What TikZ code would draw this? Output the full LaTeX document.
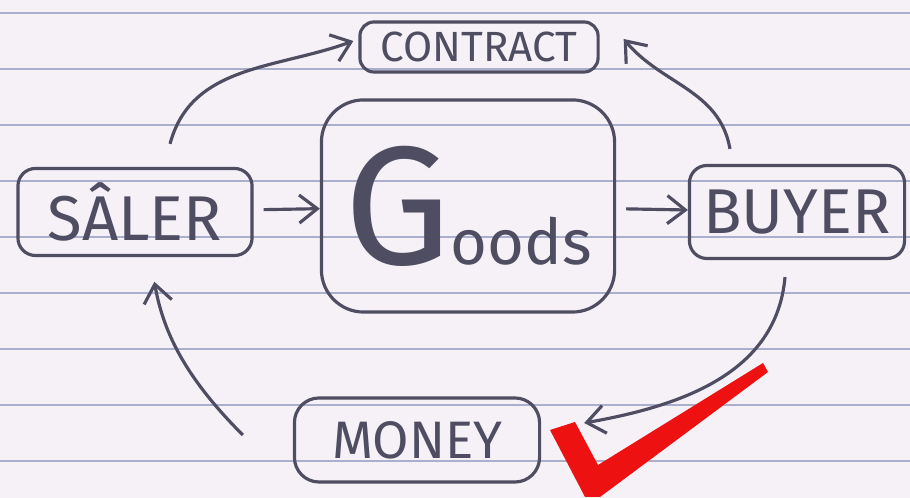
\documentclass[tikz,border=0pt]{standalone}
\usepackage{fontspec}
\setmainfont{Fira Sans}
\usetikzlibrary{arrows.meta}
\definecolor{paper}{HTML}{F6F1F7}
\definecolor{ruleblue}{HTML}{A9AFCC}
\definecolor{pencil}{HTML}{4E4D62}
\definecolor{checkred}{HTML}{EE1111}

\begin{document}
\begin{tikzpicture}[x=0.01cm, y=0.01cm,
	box/.style={draw=pencil, line width=0.9pt, text=pencil, inner sep=0pt},
	flow/.style={draw=pencil, line width=0.9pt, -{Straight Barb[length=1.8mm, width=2.8mm]}},
	ruling/.style={draw=ruleblue, line width=0.7pt}]
	% Paper and ruled lines:
	\fill[paper] (0,0) rectangle (910,498);
	\useasboundingbox (0,0) rectangle (910,498);
	\foreach \y in {37,93,...,485}
		\draw[ruling] (0,\y) -- (910,\y);
	% Nodes:
	\node[box, rounded corners=4pt, minimum width=2.38cm, minimum height=0.5cm, font=\fontsize{12}{14}\selectfont] (contract) at (479,451) {CONTRACT};
	\node[box, rounded corners=5pt, minimum width=2.34cm, minimum height=0.87cm, font=\fontsize{18}{20}\selectfont] (saler) at (135,286) {SÂLER};
	\node[box, rounded corners=12pt, minimum width=2.93cm, minimum height=2.12cm] (goods) at (468,292) {{\fontsize{48}{48}\selectfont G}{\fontsize{18}{18}\selectfont oods}};
	\node[box, rounded corners=5pt, minimum width=2.15cm, minimum height=0.93cm, font=\fontsize{18}{20}\selectfont] (buyer) at (797,286) {BUYER};
	\node[box, rounded corners=7pt, minimum width=2.45cm, minimum height=0.84cm, font=\fontsize{15}{17}\selectfont] (money) at (417,58) {MONEY};
	% Connectors:
	\draw[flow] ([xshift=0.35cm, yshift=0.23cm]saler.north) to[out=75, in=200] ([xshift=-0.05cm, yshift=0.06cm]contract.west);
	\draw[flow] ([xshift=-0.67cm, yshift=0.15cm]buyer.north) to[out=100, in=-50] ([xshift=0.24cm, yshift=0.08cm]contract.east);
	\draw[flow, shorten <=0.1cm] (saler) -- (goods);
	\draw[flow, shorten <=0.1cm] (goods) -- (buyer);
	\draw[flow] ([xshift=-0.12cm, yshift=-0.17cm]buyer.south) to[out=-95, in=10] ([xshift=0.43cm, yshift=0.17cm]money.east);
	\draw[flow, shorten >=0.25cm] ([xshift=-0.5cm, yshift=0.05cm]money.west) to[out=135, in=-80] ([xshift=0.15cm]saler.south);
	% Red tick:
	\fill[checkred] (550,68) -- (575,76) -- (598,33) -- (763,135) -- (768,126) -- (600,1) -- (585,1) -- cycle;
\end{tikzpicture}
\end{document}
